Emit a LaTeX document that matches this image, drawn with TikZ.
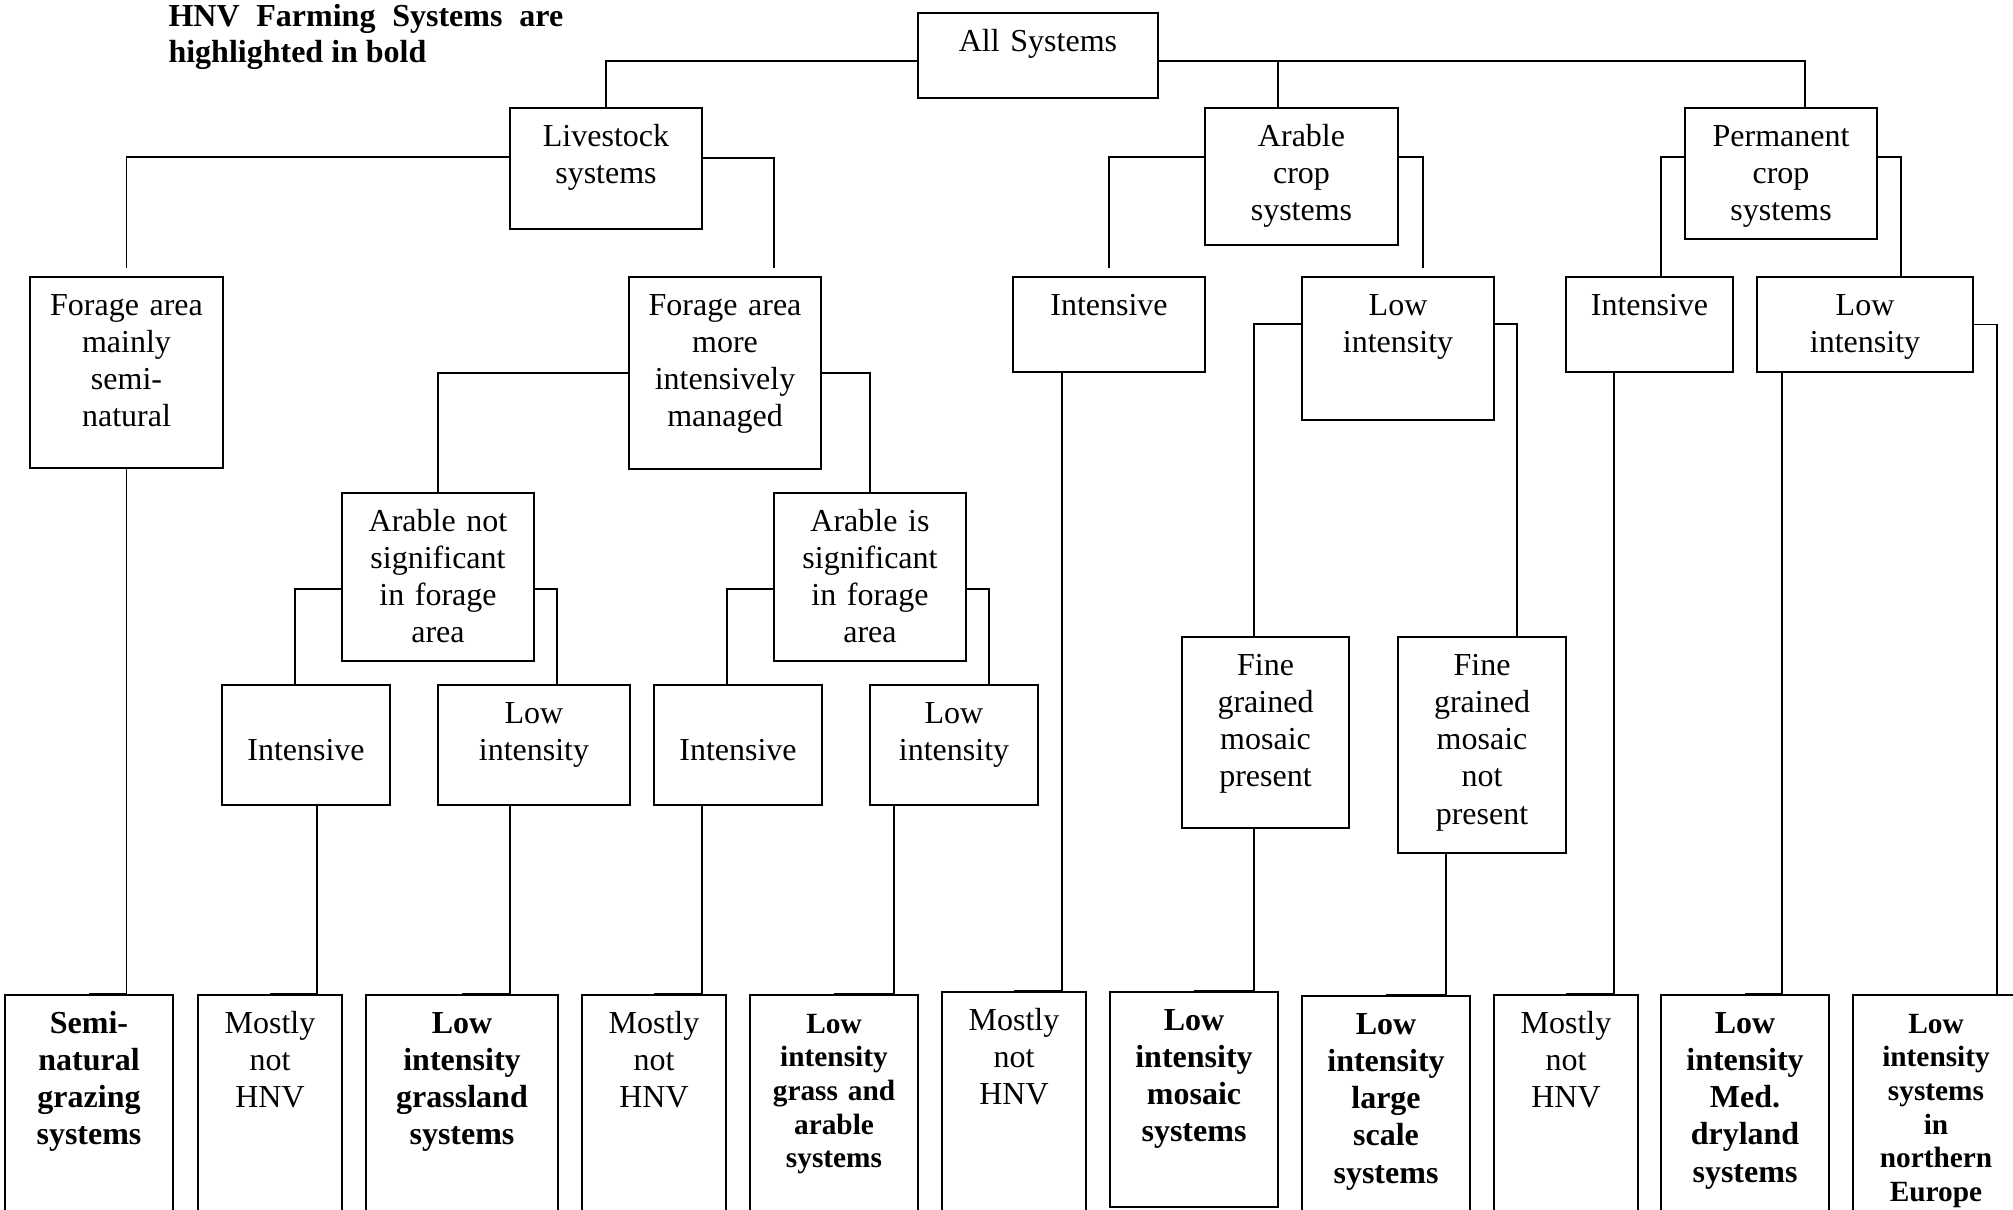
\documentclass[tikz,border=0pt]{standalone}
\usepackage{fontspec}
\setmainfont{Liberation Serif}

\begin{document}
\begin{tikzpicture}[
    x=0.375pt, y=-0.375pt,
    box/.style 2 args={draw, line width=0.8pt, anchor=north, align=center, text width=#1, inner xsep=0pt, inner ysep=4.5pt, text height=9.8pt, text depth=#2+0.7pt, font=\fontsize{12}{13.95}\selectfont},
    lowline/.style={text height=23.75pt},
    hnv/.style={font=\fontsize{12}{13.95}\selectfont\bfseries},
    hnvsmall/.style={font=\fontsize{11}{12.6}\selectfont\bfseries},
    link/.style={line width=0.7pt},
    gap/.style={shorten >=3pt}
]
\useasboundingbox (0,0) rectangle (2013,1209);
\clip (0,0) rectangle (2013,1209);

% Note
\node (note) [anchor=north west, text width=148pt, align=justify, inner sep=0pt, text height=10pt, font=\fontsize{12}{13.5}\selectfont\bfseries] at (168,-1) {HNV Farming Systems are highlighted in bold};

% Boxes
\node (all) [box={90pt}{12.4pt}] at (1038,12) {All Systems};
\node (live) [box={72pt}{25.9pt}] at (606,107) {Livestock\\systems};
\node (arab) [box={72.4pt}{31.9pt}] at (1301.5,107) {Arable\\crop\\systems};
\node (perm) [box={72pt}{29.6pt}] at (1781,107) {Permanent\\crop\\systems};
\node (fmain) [box={72.4pt}{52.1pt}] at (126.5,276) {Forage area\\mainly\\semi-\\natural};
\node (fmore) [box={72pt}{52.5pt}] at (725,276) {Forage area\\more\\intensively\\managed};
\node (anot) [box={72pt}{43.5pt}] at (438,492) {Arable not\\significant\\in forage\\area};
\node (ais) [box={72pt}{43.5pt}] at (870,492) {Arable is\\significant\\in forage\\area};
\node (int1) [box={63pt}{11.55pt}, lowline] at (306,684) {Intensive};
\node (low1) [box={72pt}{25.5pt}] at (534,684) {Low\\intensity};
\node (int2) [box={63pt}{11.55pt}, lowline] at (738,684) {Intensive};
\node (low2) [box={63pt}{25.5pt}] at (954,684) {Low\\intensity};
\node (int3) [box={72pt}{16.1pt}] at (1109,276) {Intensive};
\node (low3) [box={72pt}{34.1pt}] at (1398,276) {Low\\intensity};
\node (int4) [box={62.6pt}{16.1pt}] at (1649.5,276) {Intensive};
\node (low4) [box={81pt}{16.1pt}] at (1865,276) {Low\\intensity};
\node (fpres) [box={62.6pt}{52.1pt}] at (1265.5,636) {Fine\\grained\\mosaic\\present};
\node (fnot) [box={63pt}{61.5pt}] at (1482,636) {Fine\\grained\\mosaic\\not\\present};

% Outcomes
\node (semi) [box={63pt}{69pt}, hnv] at (89,994) {Semi-\\natural\\grazing\\systems};
\node (most1) [box={54pt}{69pt}] at (270,994) {Mostly\\not\\HNV};
\node (grass) [box={72pt}{69pt}, hnv] at (462,994) {Low\\intensity\\grassland\\systems};
\node (most2) [box={54pt}{69pt}] at (654,994) {Mostly\\not\\HNV};
\node (grar) [box={63pt}{69pt}, hnvsmall] at (834,994) {Low\\intensity\\grass and\\arable\\systems};
\node (most3) [box={54pt}{69pt}] at (1014,991) {Mostly\\not\\HNV};
\node (mosaic) [box={63pt}{61.1pt}, hnv] at (1194,991) {Low\\intensity\\mosaic\\systems};
\node (large) [box={63pt}{69pt}, hnv] at (1386,995) {Low\\intensity\\large\\scale\\systems};
\node (most4) [box={54pt}{69pt}] at (1566,994) {Mostly\\not\\HNV};
\node (dry) [box={63pt}{69pt}, hnv] at (1745,994) {Low\\intensity\\Med.\\dryland\\systems};
\node (neur) [box={62.3pt}{69pt}, hnvsmall] at (1936,994) {Low\\intensity\\systems\\in\\northern\\Europe};

% Links
\draw[link] ([yshift=-2pt]all.west) -| (live.north);
\draw[link] ([yshift=-2pt]all.east) -| ([xshift=-8.8pt]arab.north);
\draw[link] ([yshift=-2pt]all.east) -| ([xshift=9pt]perm.north);
\draw[link, gap] ([yshift=4.3pt]live.west) -| (fmain.north);
\draw[link, gap] ([yshift=4pt]live.east) -| ([xshift=18.4pt]fmore.north);
\draw[link, gap] ([yshift=7.3pt]arab.west) -| (int3.north);
\draw[link, gap] ([yshift=7.3pt]arab.east) -| ([xshift=9.4pt]low3.north);
\draw[link] ([yshift=6.2pt]perm.west) -| ([xshift=4.3pt]int4.north);
\draw[link] ([yshift=6.2pt]perm.east) -| ([xshift=13.5pt]low4.north);
\draw[link] (fmain.south) |- (semi.north);
\draw[link] (fmore.west) -| (anot.north);
\draw[link] (fmore.east) -| (ais.north);
\draw[link] ([yshift=-4.5pt]anot.west) -| ([xshift=-4.1pt]int1.north);
\draw[link] ([yshift=-4.5pt]anot.east) -| ([xshift=8.6pt]low1.north);
\draw[link] ([yshift=-4.5pt]ais.west) -| ([xshift=-4.1pt]int2.north);
\draw[link] ([yshift=-4.5pt]ais.east) -| ([xshift=13.1pt]low2.north);
\draw[link] ([xshift=4.1pt]int1.south) |- (most1.north);
\draw[link] ([xshift=-9pt]low1.south) |- (grass.north);
\draw[link] ([xshift=-13.5pt]int2.south) |- (most2.north);
\draw[link] ([xshift=-22.5pt]low2.south) |- (grar.north);
\draw[link] ([xshift=-17.6pt]int3.south) |- (most3.north);
\draw[link] ([yshift=9.2pt]low3.west) -| ([xshift=-4.3pt]fpres.north);
\draw[link] ([yshift=9.2pt]low3.east) -| ([xshift=13.1pt]fnot.north);
\draw[link] ([xshift=-4.3pt]fpres.south) |- (mosaic.north);
\draw[link] ([xshift=-13.5pt]fnot.south) |- (large.north);
\draw[link] ([xshift=-13.3pt]int4.south) |- (most4.north);
\draw[link] ([xshift=-31.1pt]low4.south) |- (dry.north);
\draw[link] (low4.east) -| ([xshift=22.9pt]neur.north);

\end{tikzpicture}
\end{document}
